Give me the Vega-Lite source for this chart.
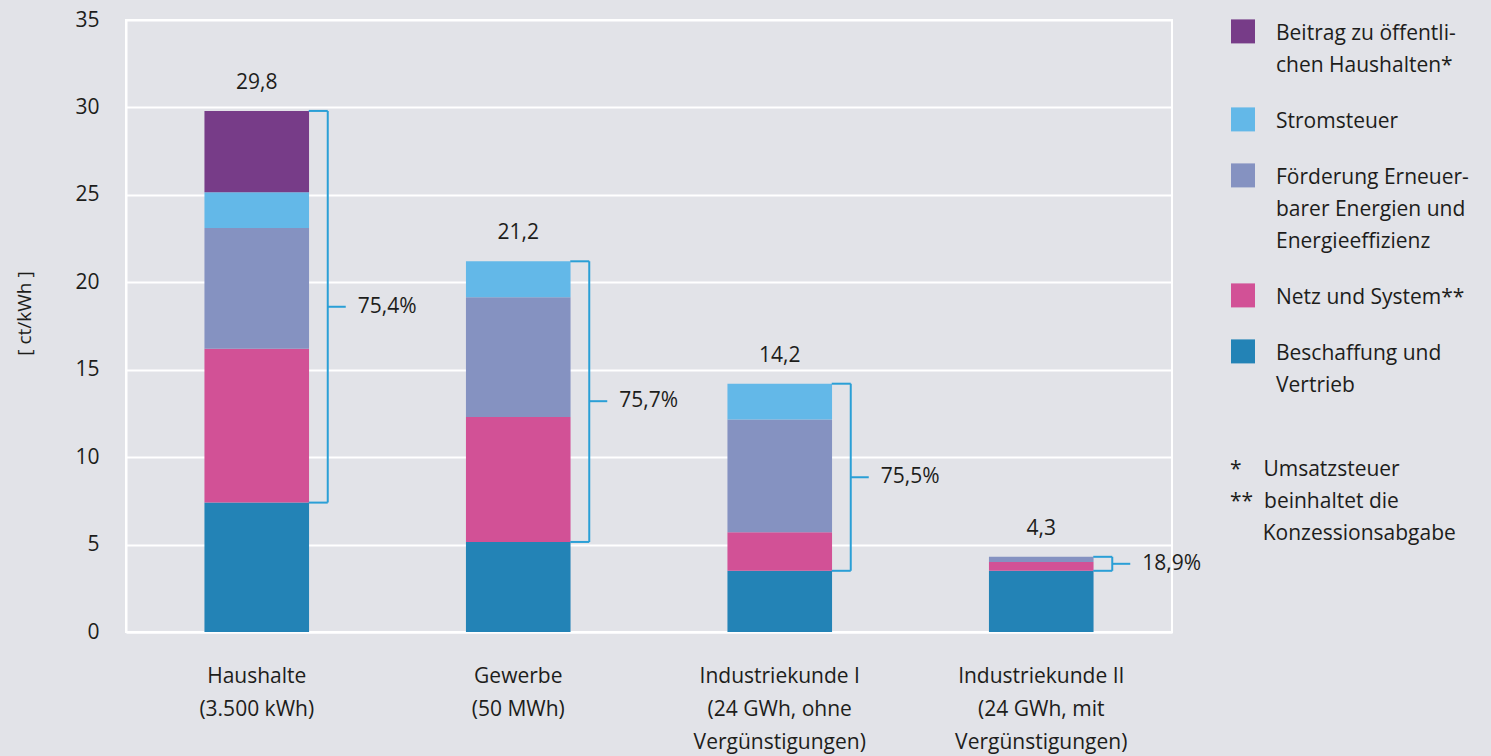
{
  "$schema": "https://vega.github.io/schema/vega-lite/v6.json",
  "width": 1046,
  "height": 612,
  "autosize": {"type": "none"},
  "padding": {"left": 126, "top": 20, "right": 319, "bottom": 124},
  "background": "#e2e3e8",
  "config": {
    "font": "Open Sans",
    "locale": {"number": {"decimal": ",", "thousands": ".", "grouping": [3], "currency": ["", " €"]}},
    "view": {"stroke": "white", "strokeWidth": 2},
    "style": {"guide-label": {"lineHeight": 32}}
  },
  "datasets": {
    "costs": [
      {"kunde": "Haushalte (3.500 kWh)", "komponente": "Beschaffung und Vertrieb", "rang": 1, "wert": 7.4},
      {"kunde": "Haushalte (3.500 kWh)", "komponente": "Netz und System**", "rang": 2, "wert": 8.8},
      {"kunde": "Haushalte (3.500 kWh)", "komponente": "Förderung Erneuerbarer Energien und Energieeffizienz", "rang": 3, "wert": 6.9},
      {"kunde": "Haushalte (3.500 kWh)", "komponente": "Stromsteuer", "rang": 4, "wert": 2.05},
      {"kunde": "Haushalte (3.500 kWh)", "komponente": "Beitrag zu öffentlichen Haushalten*", "rang": 5, "wert": 4.65},
      {"kunde": "Gewerbe (50 MWh)", "komponente": "Beschaffung und Vertrieb", "rang": 1, "wert": 5.15},
      {"kunde": "Gewerbe (50 MWh)", "komponente": "Netz und System**", "rang": 2, "wert": 7.15},
      {"kunde": "Gewerbe (50 MWh)", "komponente": "Förderung Erneuerbarer Energien und Energieeffizienz", "rang": 3, "wert": 6.85},
      {"kunde": "Gewerbe (50 MWh)", "komponente": "Stromsteuer", "rang": 4, "wert": 2.05},
      {"kunde": "Industriekunde I (24 GWh, ohne Vergünstigungen)", "komponente": "Beschaffung und Vertrieb", "rang": 1, "wert": 3.5},
      {"kunde": "Industriekunde I (24 GWh, ohne Vergünstigungen)", "komponente": "Netz und System**", "rang": 2, "wert": 2.2},
      {"kunde": "Industriekunde I (24 GWh, ohne Vergünstigungen)", "komponente": "Förderung Erneuerbarer Energien und Energieeffizienz", "rang": 3, "wert": 6.45},
      {"kunde": "Industriekunde I (24 GWh, ohne Vergünstigungen)", "komponente": "Stromsteuer", "rang": 4, "wert": 2.05},
      {"kunde": "Industriekunde II (24 GWh, mit Vergünstigungen)", "komponente": "Beschaffung und Vertrieb", "rang": 1, "wert": 3.5},
      {"kunde": "Industriekunde II (24 GWh, mit Vergünstigungen)", "komponente": "Netz und System**", "rang": 2, "wert": 0.5},
      {"kunde": "Industriekunde II (24 GWh, mit Vergünstigungen)", "komponente": "Förderung Erneuerbarer Energien und Energieeffizienz", "rang": 3, "wert": 0.3}
    ],
    "brackets": [
      {"kunde": "Haushalte (3.500 kWh)", "lo": 7.4, "hi": 29.8, "mid": 18.6, "anteil": 0.754},
      {"kunde": "Gewerbe (50 MWh)", "lo": 5.15, "hi": 21.2, "mid": 13.2, "anteil": 0.757},
      {"kunde": "Industriekunde I (24 GWh, ohne Vergünstigungen)", "lo": 3.5, "hi": 14.2, "mid": 8.85, "anteil": 0.755},
      {"kunde": "Industriekunde II (24 GWh, mit Vergünstigungen)", "lo": 3.5, "hi": 4.3, "mid": 3.9, "anteil": 0.189}
    ],
    "notes": [{"note": "Fußnoten"}]
  },
  "encoding": {
    "x": {
      "field": "kunde", "type": "nominal",
      "scale": {
        "domain": ["Haushalte (3.500 kWh)", "Gewerbe (50 MWh)", "Industriekunde I (24 GWh, ohne Vergünstigungen)", "Industriekunde II (24 GWh, mit Vergünstigungen)"],
        "paddingInner": 0.6, "paddingOuter": 0.3
      },
      "axis": {
        "title": null, "labelAngle": 0, "labelFontSize": 21, "labelColor": "#1d1d1b",
        "labelLineHeight": 33, "labelPadding": 33, "labelBaseline": "top",
        "ticks": false,
        "domainColor": "white", "domainWidth": 2,
        "labelExpr": "datum.label == 'Haushalte (3.500 kWh)' ? ['Haushalte', '(3.500 kWh)'] : datum.label == 'Gewerbe (50 MWh)' ? ['Gewerbe', '(50 MWh)'] : datum.label == 'Industriekunde I (24 GWh, ohne Vergünstigungen)' ? ['Industriekunde I', '(24 GWh, ohne', 'Vergünstigungen)'] : ['Industriekunde II', '(24 GWh, mit', 'Vergünstigungen)']"
      }
    }
  },
  "layer": [
    {
      "data": {"name": "costs"},
      "mark": {"type": "bar"},
      "encoding": {
        "y": {
          "field": "wert", "type": "quantitative", "stack": "zero",
          "scale": {"domain": [0, 35]},
          "axis": {
            "title": "[ ct/kWh ]", "values": [0, 5, 10, 15, 20, 25, 30, 35],
            "ticks": false, "labelPadding": 27, "labelFontSize": 21, "labelColor": "#1d1d1b",
            "domainColor": "white", "domainWidth": 2, "gridColor": "white", "gridWidth": 2,
            "titleFontSize": 19, "titleFontWeight": "normal", "titleColor": "#1d1d1b",
            "titleX": -102, "titleY": 293, "titleBaseline": "middle"
          }
        },
        "color": {
          "field": "komponente", "type": "nominal",
          "scale": {
            "domain": ["Beitrag zu öffentlichen Haushalten*", "Stromsteuer", "Förderung Erneuerbarer Energien und Energieeffizienz", "Netz und System**", "Beschaffung und Vertrieb"],
            "range": ["#773c88", "#63b8e8", "#8592c1", "#d25196", "#2383b6"]
          },
          "legend": {
            "title": null, "orient": "none", "legendX": 1105, "legendY": -9,
            "symbolType": "M-1,-0.3H1V1.7H-1Z", "symbolSize": 576, "symbolStrokeWidth": 0, "symbolOpacity": 1,
            "labelOffset": 21, "labelFontSize": 21, "labelColor": "#1d1d1b", "labelLimit": 320,
            "labelBaseline": "top", "rowPadding": 23, "padding": 0,
            "labelExpr": "datum.label == 'Beitrag zu öffentlichen Haushalten*' ? ['Beitrag zu öffentli-', 'chen Haushalten*'] : datum.label == 'Förderung Erneuerbarer Energien und Energieeffizienz' ? ['Förderung Erneuer-', 'barer Energien und', 'Energieeffizienz'] : datum.label == 'Beschaffung und Vertrieb' ? ['Beschaffung und', 'Vertrieb'] : datum.label"
          }
        },
        "order": {"field": "rang", "type": "quantitative"}
      }
    },
    {
      "data": {"name": "brackets"},
      "mark": {"type": "rule", "color": "#2a9fd6", "strokeWidth": 2, "xOffset": 71},
      "encoding": {
        "y": {"field": "lo", "type": "quantitative"},
        "y2": {"field": "hi"}
      }
    },
    {
      "data": {"name": "brackets"},
      "mark": {"type": "rule", "color": "#2a9fd6", "strokeWidth": 2, "xOffset": 52, "x2Offset": 71},
      "encoding": {
        "x2": {"field": "kunde"},
        "y": {"field": "hi", "type": "quantitative"}
      }
    },
    {
      "data": {"name": "brackets"},
      "mark": {"type": "rule", "color": "#2a9fd6", "strokeWidth": 2, "xOffset": 52, "x2Offset": 71},
      "encoding": {
        "x2": {"field": "kunde"},
        "y": {"field": "lo", "type": "quantitative"}
      }
    },
    {
      "data": {"name": "brackets"},
      "mark": {"type": "rule", "color": "#2a9fd6", "strokeWidth": 2, "xOffset": 71, "x2Offset": 89},
      "encoding": {
        "x2": {"field": "kunde"},
        "y": {"field": "mid", "type": "quantitative"}
      }
    },
    {
      "data": {"name": "brackets"},
      "mark": {"type": "text", "align": "left", "baseline": "middle", "dx": 101, "fontSize": 21, "color": "#1d1d1b"},
      "encoding": {
        "y": {"field": "mid", "type": "quantitative"},
        "text": {"field": "anteil", "type": "quantitative", "format": ".1%"}
      }
    },
    {
      "data": {"name": "brackets"},
      "mark": {"type": "text", "align": "center", "baseline": "middle", "dy": -28, "fontSize": 21, "color": "#1d1d1b"},
      "encoding": {
        "y": {"field": "hi", "type": "quantitative"},
        "text": {"field": "hi", "type": "quantitative", "format": ".1f"}
      }
    },
    {
      "data": {"name": "notes"},
      "mark": {"type": "point", "opacity": 0},
      "encoding": {
        "x": {"value": 0},
        "y": {"value": 0},
        "shape": {
          "field": "note", "type": "nominal",
          "legend": {
            "title": null, "orient": "none", "legendX": 1083, "legendY": 428,
            "symbolSize": 1, "symbolOpacity": 0, "labelOffset": 0, "labelFontSize": 21,
            "labelColor": "#1d1d1b", "labelBaseline": "top", "labelLimit": 400, "padding": 0,
            "labelExpr": "['*\u00a0\u00a0\u00a0\u00a0Umsatzsteuer', '**\u00a0\u00a0beinhaltet die', '\u200b\u00a0\u00a0\u00a0\u00a0\u00a0\u00a0Konzessionsabgabe']"
          }
        }
      }
    }
  ]
}
